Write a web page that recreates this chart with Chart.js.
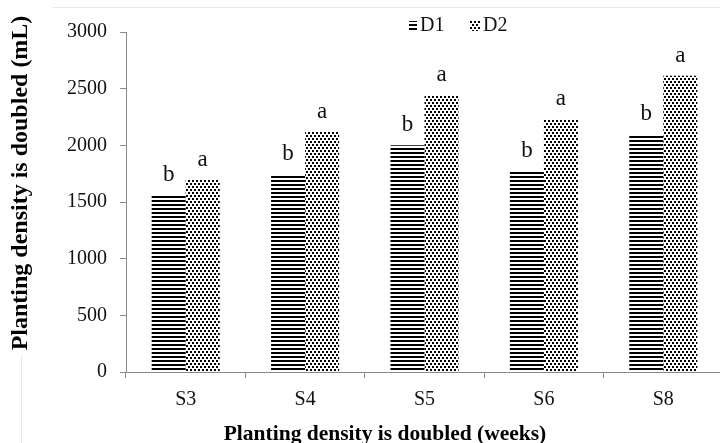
<!DOCTYPE html>
<html>
<head>
<meta charset="utf-8">
<script src="https://cdn.jsdelivr.net/npm/chart.js@4/dist/chart.umd.min.js"></script>
<style>
  html, body { margin: 0; padding: 0; background: #fff; overflow: hidden; width: 720px; height: 443px; }
  #wrap { position: relative; width: 723px; height: 443px; }
</style>
</head>
<body>
<div id="wrap"><canvas id="c" width="723" height="443"></canvas></div>
<script>
// Volume per growth stage for the two planting densities
const stages = ['S3', 'S4', 'S5', 'S6', 'S8'];
const d1Values = [1560, 1745, 2000, 1775, 2100];
const d2Values = [1695, 2120, 2440, 2230, 2615];
const d1Letters = ['b', 'b', 'b', 'b', 'b'];
const d2Letters = ['a', 'a', 'a', 'a', 'a'];
const yTickValues = [0, 500, 1000, 1500, 2000, 2500, 3000];

const SERIF = "'Liberation Serif', 'Times New Roman', serif";
const AXIS_GREY = '#8a8a8a';

// Horizontal-stripe fill
function stripePattern() {
  const t = document.createElement('canvas');
  t.width = 4; t.height = 4;
  const g = t.getContext('2d');
  g.fillStyle = '#fff'; g.fillRect(0, 0, 4, 4);
  g.fillStyle = '#000'; g.fillRect(0, 0, 4, 2);
  return g.createPattern(t, 'repeat');
}

// Stippled dot fill (2px dots on a staggered lattice)
function dotPattern() {
  const t = document.createElement('canvas');
  t.width = 4; t.height = 6;
  const g = t.getContext('2d');
  g.fillStyle = '#fff'; g.fillRect(0, 0, 4, 6);
  g.fillStyle = '#000';
  g.fillRect(0, 0, 2, 2);
  g.fillRect(2, 3, 2, 2);
  return g.createPattern(t, 'repeat');
}

const ctx = document.getElementById('c').getContext('2d');
const fillD1 = stripePattern();
const fillD2 = dotPattern();

// Significance letters above each bar
const letterPlugin = {
  id: 'letters',
  afterDatasetsDraw(chart) {
    const c = chart.ctx;
    c.save();
    c.font = '23px ' + SERIF;
    c.fillStyle = '#111';
    c.textAlign = 'center';
    c.textBaseline = 'alphabetic';
    chart.data.datasets.forEach((ds, i) => {
      chart.getDatasetMeta(i).data.forEach((bar, j) => {
        c.fillText(ds.letters[j], bar.x, bar.y - 14);
      });
    });
    c.restore();
  }
};

// Legend, axis titles and faint frame lines
const decorPlugin = {
  id: 'decor',
  afterDraw(chart) {
    const c = chart.ctx;
    c.save();
    // faint outer frame
    c.strokeStyle = '#e8e8e8';
    c.lineWidth = 1;
    c.beginPath();
    c.moveTo(53, 7.5); c.lineTo(723, 7.5);
    c.moveTo(21.5, 356); c.lineTo(21.5, 443);
    c.stroke();

    // legend
    const items = [{ x: 409, w: 8 }, { x: 470, w: 10 }];
    c.font = '20px ' + SERIF;
    c.textBaseline = 'middle';
    c.textAlign = 'left';
    chart.data.datasets.forEach((ds, i) => {
      const it = items[i];
      c.fillStyle = ds.backgroundColor;
      c.fillRect(it.x, 21, it.w, 10);
      c.fillStyle = '#111';
      c.fillText(ds.label, it.x + it.w + 3, 26);
    });

    // x-axis title
    c.font = 'bold 21.5px ' + SERIF;
    c.fillStyle = '#000';
    c.textAlign = 'center';
    c.textBaseline = 'alphabetic';
    c.fillText('Planting density is doubled (weeks)', 385, 440);

    // y-axis title
    c.translate(21, 183);
    c.rotate(-Math.PI / 2);
    c.font = 'bold 24px ' + SERIF;
    c.textAlign = 'center';
    c.textBaseline = 'middle';
    c.fillText('Planting density is doubled (mL)', 0, 0);
    c.restore();
  }
};

new Chart(ctx, {
  type: 'bar',
  data: {
    labels: stages,
    datasets: [
      { label: 'D1', data: d1Values, letters: d1Letters, backgroundColor: fillD1, borderWidth: 0 },
      { label: 'D2', data: d2Values, letters: d2Letters, backgroundColor: fillD2, borderWidth: 0 }
    ]
  },
  options: {
    responsive: false,
    animation: false,
    events: [],
    layout: { padding: { top: 32, right: 0, bottom: 0, left: 0 } },
    datasets: { bar: { categoryPercentage: 0.57, barPercentage: 1.0 } },
    plugins: { legend: { display: false }, tooltip: { enabled: false } },
    scales: {
      x: {
        offset: true,
        grid: { offset: true, drawOnChartArea: false, drawTicks: true, tickLength: 6, color: AXIS_GREY },
        border: { color: AXIS_GREY, width: 1 },
        ticks: { font: { family: SERIF, size: 20 }, color: '#111', padding: 10 },
        afterFit(scale) { scale.height = 71; }
      },
      y: {
        min: 0,
        max: 3000,
        afterBuildTicks(scale) { scale.ticks = yTickValues.map(v => ({ value: v })); },
        grid: { drawOnChartArea: false, drawTicks: true, tickLength: 6, color: AXIS_GREY },
        border: { color: AXIS_GREY, width: 1 },
        ticks: {
          font: { family: SERIF, size: 20 },
          color: '#111',
          padding: 13,
          callback: (v) => String(v)
        },
        afterFit(scale) { scale.width = 126; }
      }
    }
  },
  plugins: [letterPlugin, decorPlugin]
});
</script>
</body>
</html>
